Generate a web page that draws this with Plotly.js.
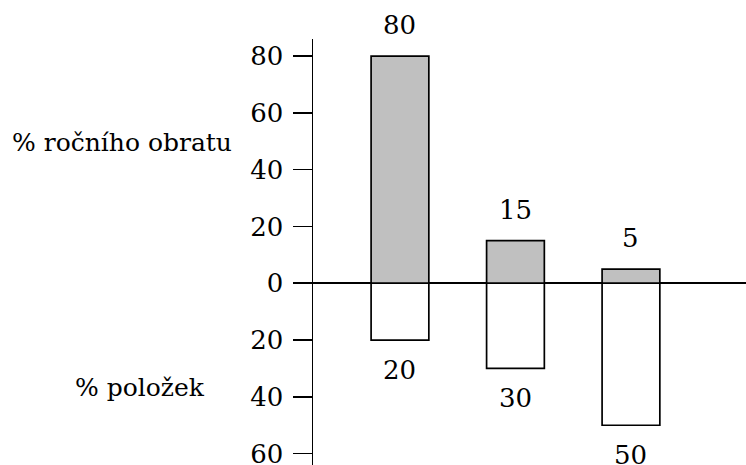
<!DOCTYPE html>
<html>
<head>
<meta charset="utf-8">
<script src="https://cdn.plot.ly/plotly-3.0.1.min.js"></script>
<style>html,body{margin:0;padding:0;background:#fff;}#chart{width:746px;height:465px;}</style>
</head>
<body>
<div id="chart"></div>
<script>
const groups = [0, 1, 2];
const turnoverPct = [80, 15, 5];
const itemsPct = [20, 30, 50];
const tickVals = [-60, -40, -20, 0, 20, 40, 60, 80];
const tickLabels = ['60', '40', '20', '0', '20', '40', '60', '80'];
const topLabel = '% ročního obratu';
const bottomLabel = '% položek';

const FONT = 'DejaVu Serif';
const FS = 26;
const LFS = 25;

const traces = [
  {
    type: 'bar', x: groups, y: turnoverPct, width: 0.5,
    marker: {color: '#c0c0c0', line: {color: '#000', width: 1.7}},
    hoverinfo: 'none', cliponaxis: false
  },
  {
    type: 'bar', x: groups, y: itemsPct.map(v => -v), width: 0.5,
    marker: {color: '#ffffff', line: {color: '#000', width: 1.7}},
    hoverinfo: 'none', cliponaxis: false
  }
];

const annotations = [];
groups.forEach((g, i) => {
  annotations.push({x: g, y: turnoverPct[i], xref: 'x', yref: 'y', text: String(turnoverPct[i]),
    showarrow: false, yshift: 31, font: {family: FONT, size: FS, color: '#000'}});
  annotations.push({x: g, y: -itemsPct[i], xref: 'x', yref: 'y', text: String(itemsPct[i]),
    showarrow: false, yshift: -30, font: {family: FONT, size: FS, color: '#000'}});
});
annotations.push({xref: 'paper', yref: 'paper', x: -0.441, y: 0.756, text: topLabel, showarrow: false,
  xanchor: 'center', yanchor: 'middle', font: {family: FONT, size: LFS, color: '#000'}});
annotations.push({xref: 'paper', yref: 'paper', x: -0.399, y: 0.183, text: bottomLabel, showarrow: false,
  xanchor: 'center', yanchor: 'middle', font: {family: FONT, size: LFS, color: '#000'}});

const layout = {
  width: 746, height: 465,
  margin: {l: 313, r: 0, t: 39, b: 0, pad: 0},
  paper_bgcolor: '#fff', plot_bgcolor: '#fff',
  barmode: 'overlay',
  showlegend: false,
  font: {family: FONT, size: FS, color: '#000'},
  xaxis: {range: [-0.753, 2.996], showgrid: false, zeroline: false, showline: false,
    showticklabels: false, ticks: '', fixedrange: true},
  yaxis: {range: [-64, 86], tickmode: 'array', tickvals: tickVals, ticktext: tickLabels,
    ticks: 'outside', ticklen: 19, tickwidth: 1.5, tickcolor: '#000',
    showline: true, linecolor: '#000', linewidth: 1.5,
    showgrid: false, zeroline: true, zerolinecolor: '#000', zerolinewidth: 1.5,
    ticklabelstandoff: 4, ticklabeloverflow: 'allow',
    tickfont: {family: FONT, size: FS, color: '#000'}, fixedrange: true},
  annotations: annotations
};

Plotly.newPlot('chart', traces, layout, {displayModeBar: false, staticPlot: true});
</script>
</body>
</html>
